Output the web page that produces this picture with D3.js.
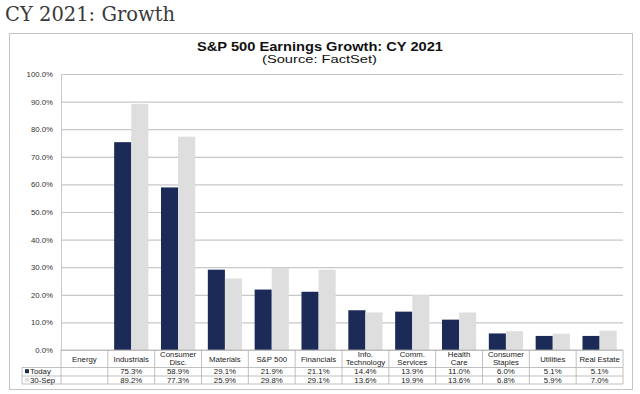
<!DOCTYPE html>
<html>
<head>
<meta charset="utf-8">
<script src="https://cdn.jsdelivr.net/npm/d3@7"></script>
<style>
  body { margin: 0; background: #fff; }
  svg { display: block; font-family: "Liberation Sans", Arial, sans-serif; }
</style>
</head>
<body>
<div id="chart"></div>
<script>
// sectors (Energy has no value shown)
const categories = [
  ["Energy"], ["Industrials"], ["Consumer", "Disc."], ["Materials"], ["S&P 500"],
  ["Financials"], ["Info.", "Technology"], ["Comm.", "Services"], ["Health", "Care"],
  ["Consumer", "Staples"], ["Utilities"], ["Real Estate"]
];
const today = [null, 75.3, 58.9, 29.1, 21.9, 21.1, 14.4, 13.9, 11.0, 6.0, 5.1, 5.1];
const sep30 = [null, 89.2, 77.3, 25.9, 29.8, 29.1, 13.6, 19.9, 13.6, 6.8, 5.9, 7.0];
const yTicks = [0, 10, 20, 30, 40, 50, 60, 70, 80, 90, 100];
const series = [
  { name: "Today", values: today, color: "#1b2a56" },
  { name: "30-Sep", values: sep30, color: "#dedede" }
];

const W = 640, H = 394;
const plot = { left: 61, right: 623, top: 74, bottom: 350 };

const svg = d3.select("#chart").append("svg").attr("width", W).attr("height", H);
svg.append("rect").attr("width", W).attr("height", H).attr("fill", "#fff");

// page heading
svg.append("text").attr("x", 5).attr("y", 21)
  .attr("font-family", "Georgia, 'DejaVu Serif', serif")
  .attr("font-size", 19.5).attr("fill", "#3a3a3a")
  .text("CY 2021: Growth");

// chart frame
svg.append("rect").attr("x", 9.5).attr("y", 33.5).attr("width", 623).attr("height", 356)
  .attr("fill", "#fff").attr("stroke", "#c4c4c4");

// the source image is stretched sideways, so the titles are widened to match
svg.append("text").attr("x", 197).attr("y", 51)
  .attr("font-size", 12).attr("font-weight", "bold").attr("fill", "#111")
  .attr("textLength", 246).attr("lengthAdjust", "spacingAndGlyphs")
  .text("S&P 500 Earnings Growth: CY 2021");
svg.append("text").attr("x", 262).attr("y", 62.5)
  .attr("font-size", 11.5).attr("fill", "#111")
  .attr("textLength", 115).attr("lengthAdjust", "spacingAndGlyphs")
  .text("(Source: FactSet)");

const x = d3.scaleBand().domain(d3.range(categories.length))
  .range([plot.left, plot.right]);
const xs = d3.scaleBand().domain(series.map(s => s.name))
  .range([0, x.bandwidth()]).paddingInner(0).paddingOuter(0.37);
const y = d3.scaleLinear().domain([0, 100]).range([plot.bottom, plot.top]);

// gridlines + y labels
const yAxis = svg.append("g").attr("transform", `translate(${plot.left},0)`)
  .call(d3.axisLeft(y).tickValues(yTicks).tickSize(-(plot.right - plot.left))
    .tickFormat(d => d.toFixed(1) + "%"));
yAxis.select(".domain").remove();
yAxis.selectAll(".tick line").attr("stroke", "#c8c8c8").attr("stroke-width", 1.2);
yAxis.selectAll(".tick text").attr("x", -8).attr("font-size", 7.8).attr("fill", "#333")
  .attr("font-family", "'Liberation Sans', Arial, sans-serif");
svg.append("line").attr("x1", plot.left + 0.5).attr("x2", plot.left + 0.5)
  .attr("y1", plot.top).attr("y2", plot.bottom).attr("stroke", "#c8c8c8");

// bars
series.forEach(s => {
  svg.append("g").selectAll("rect")
    .data(s.values.map((v, i) => ({ v, i })).filter(d => d.v != null))
    .join("rect")
    .attr("x", d => x(d.i) + xs(s.name))
    .attr("width", xs.bandwidth())
    .attr("y", d => y(d.v))
    .attr("height", d => y(0) - y(d.v))
    .attr("fill", s.color);
});

// data table
const rowY = [plot.bottom, 367.5, 376, 384];
const legendLeft = 22;
const tbl = svg.append("g").attr("stroke", "#b0b0b0").attr("stroke-width", 0.8);
tbl.append("line").attr("x1", plot.left).attr("x2", plot.right).attr("y1", rowY[0]).attr("y2", rowY[0]);
rowY.slice(1).forEach(yy => {
  tbl.append("line").attr("x1", legendLeft).attr("x2", plot.right).attr("y1", yy).attr("y2", yy);
});
tbl.append("line").attr("x1", legendLeft).attr("x2", legendLeft).attr("y1", rowY[1]).attr("y2", rowY[3]);
d3.range(categories.length + 1).forEach(i => {
  const xx = i < categories.length ? x(i) : plot.right;
  tbl.append("line").attr("x1", xx).attr("x2", xx).attr("y1", rowY[0]).attr("y2", rowY[3]);
});

const labels = svg.append("g").attr("font-size", 7.8).attr("fill", "#222").attr("text-anchor", "middle");
categories.forEach((lines, i) => {
  const cx = x(i) + x.bandwidth() / 2;
  const t = labels.append("text").attr("x", cx);
  const y0 = lines.length === 1 ? 361.5 : 357;
  lines.forEach((ln, k) => t.append("tspan").attr("x", cx).attr("y", y0 + k * 8).text(ln));
});

series.forEach((s, r) => {
  const base = rowY[r + 1] + 6.7;
  svg.append("rect").attr("x", legendLeft + 3).attr("y", base - 5).attr("width", 4).attr("height", 4)
    .attr("fill", s.color);
  svg.append("text").attr("x", legendLeft + 8).attr("y", base).attr("font-size", 7.8)
    .attr("fill", "#222").text(s.name);
  svg.append("g").attr("font-size", 7.8).attr("fill", "#222").attr("text-anchor", "middle")
    .selectAll("text").data(s.values.map((v, i) => ({ v, i })).filter(d => d.v != null))
    .join("text")
    .attr("x", d => x(d.i) + x.bandwidth() / 2)
    .attr("y", base)
    .text(d => d.v.toFixed(1) + "%");
});
</script>
</body>
</html>
